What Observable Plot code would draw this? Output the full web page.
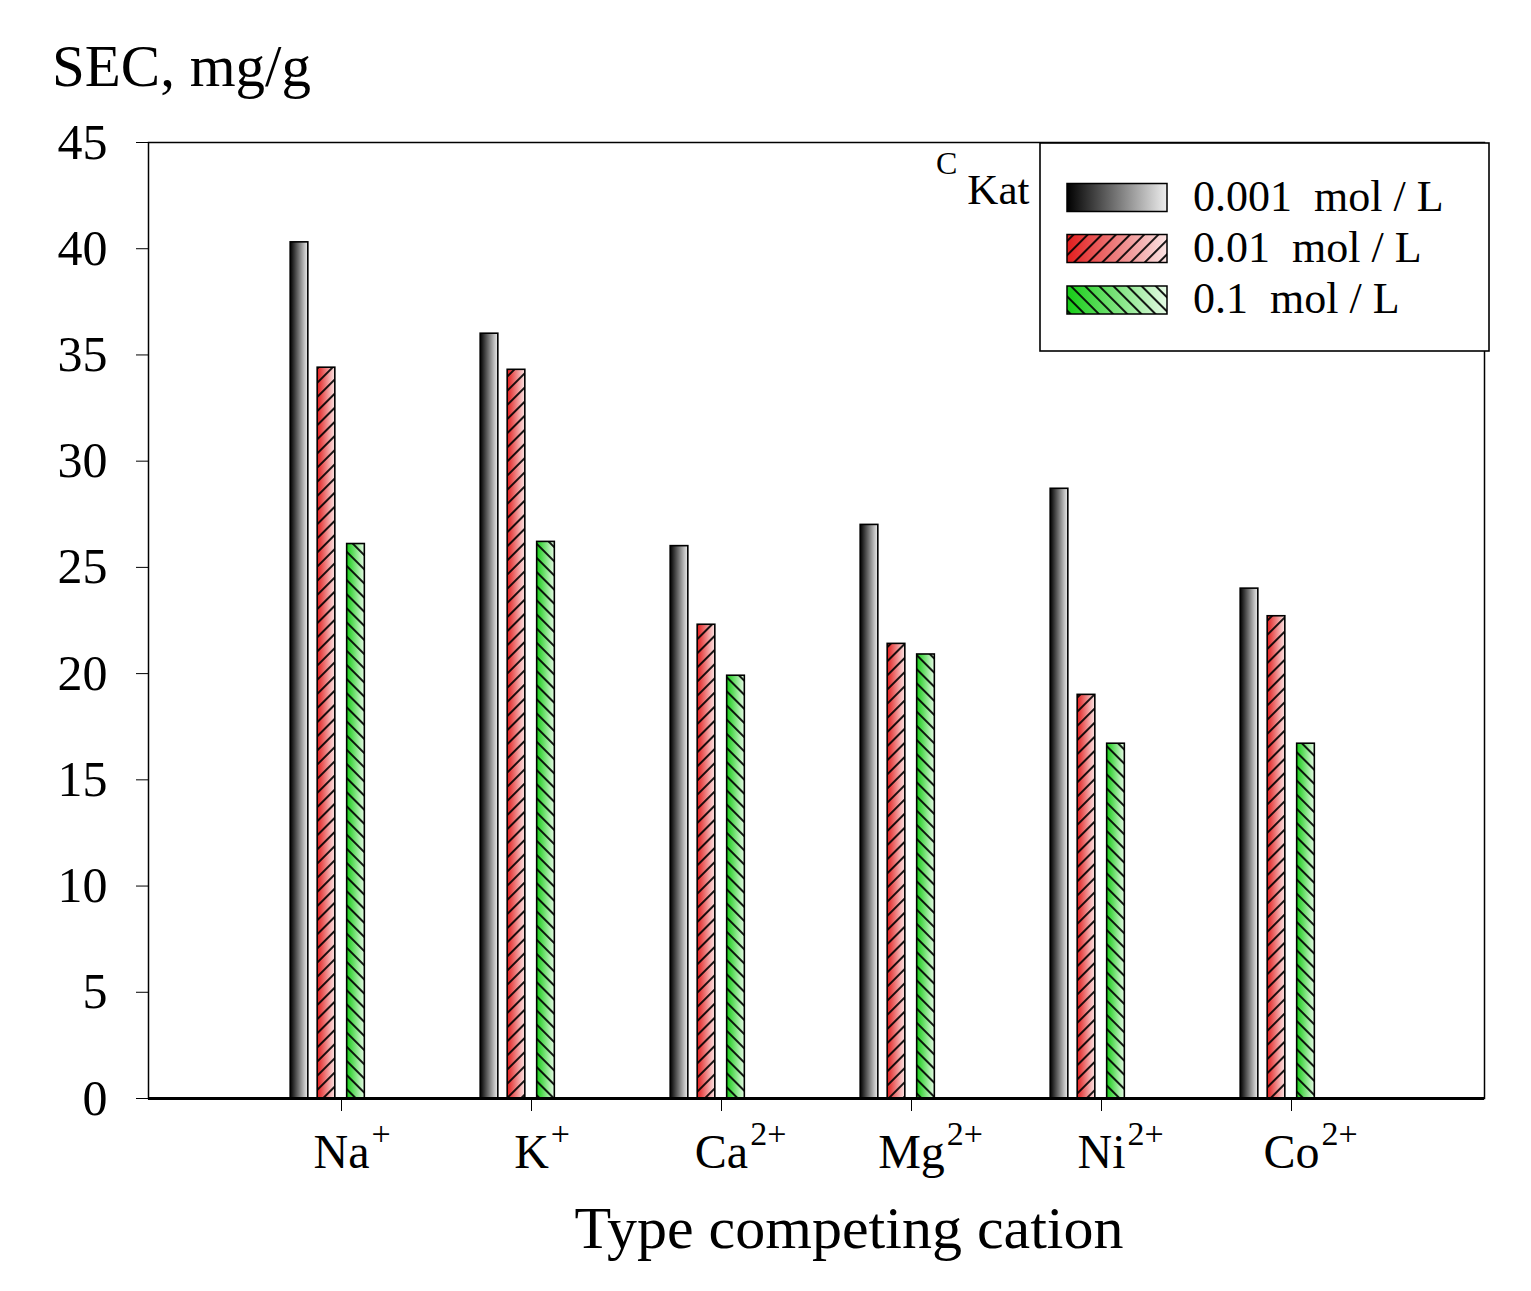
<!DOCTYPE html>
<html>
<head>
<meta charset="utf-8">
<script src="https://cdn.jsdelivr.net/npm/d3@7"></script>
<script src="https://cdn.jsdelivr.net/npm/@observablehq/plot@0.6"></script>
<style>
  html, body { margin: 0; padding: 0; background: #fff; }
  #chart svg { display: block; }
</style>
</head>
<body>
<div id="chart"></div>
<script>
// ---- data ----
const cations = ["Na", "K", "Ca", "Mg", "Ni", "Co"];
const charges = ["+", "+", "2+", "2+", "2+", "2+"];
const seriesLabels = ["0.001  mol / L", "0.01  mol / L", "0.1  mol / L"];
const sec0001 = [40.3, 36.0, 26.0, 27.0, 28.7, 24.0];
const sec001  = [34.4, 34.3, 22.3, 21.4, 19.0, 22.7];
const sec01   = [26.1, 26.2, 19.9, 20.9, 16.7, 16.7];
const yTicks = [0, 5, 10, 15, 20, 25, 30, 35, 40, 45];
const yLabel = "SEC, mg/g";
const xLabel = "Type competing cation";

const seriesValues = [sec0001, sec001, sec01];
const data = cations.flatMap((c, i) => seriesValues.map((vals, k) => ({cation: c, series: k, value: vals[i]})));

// ---- layout ----
const W = 1531, H = 1291;
const mL = 148, mR = 47, mT = 142, mB = 193;
const bandW = (W - mL - mR) / 7;   // paddingOuter 0.5, paddingInner 0 -> 7 steps
const barW = 18.5;
const offsets = [-42, -15, 14.5];
const fills = ["url(#gBlack)", "url(#gRed)", "url(#gGreen)"];
const hatches = ["none", "url(#hRed)", "url(#hGreen)"];
function insets(k) {
  const left = bandW / 2 + offsets[k] - barW / 2;
  return {insetLeft: left, insetRight: bandW - left - barW};
}

const marks = [];
for (let k = 0; k < 3; k++) {
  const sub = data.filter(d => d.series === k);
  marks.push(Plot.barY(sub, {x: "cation", y: "value", fill: fills[k], ...insets(k)}));
  marks.push(Plot.barY(sub, {x: "cation", y: "value", fill: hatches[k], stroke: "#000", strokeWidth: 1.6, ...insets(k)}));
}
marks.push(Plot.frame({stroke: "#000", strokeWidth: 1.5}));
marks.push(Plot.ruleY([0], {stroke: "#000", strokeWidth: 3}));

const svgNode = Plot.plot({
  width: W,
  height: H,
  marginLeft: mL,
  marginRight: mR,
  marginTop: mT,
  marginBottom: mB,
  style: {fontFamily: "'Liberation Serif', 'Times New Roman', serif", fontSize: "50px", color: "#000", background: "#fff", overflow: "visible"},
  x: {type: "band", domain: cations, paddingInner: 0, paddingOuter: 0.5, tickSize: 13, tickPadding: 22, label: null},
  y: {domain: [0, 45], ticks: yTicks, tickSize: 12, tickPadding: 29, label: null},
  marks
});

document.getElementById("chart").appendChild(svgNode);
const svg = d3.select(svgNode);

// ---- defs: gradients and hatches ----
const defs = svg.insert("defs", ":first-child");
function grad(id, c0, c1) {
  const g = defs.append("linearGradient").attr("id", id).attr("x1", 0).attr("x2", 1).attr("y1", 0).attr("y2", 0);
  g.append("stop").attr("offset", "0%").attr("stop-color", c0);
  g.append("stop").attr("offset", "100%").attr("stop-color", c1);
}
grad("gBlack", "#000000", "#eeeeee");
grad("gRed", "#e21c1c", "#fbe4e4");
grad("gGreen", "#14cc14", "#e6fbe6");
function hatch(id, angle, size) {
  const p = defs.append("pattern").attr("id", id).attr("patternUnits", "userSpaceOnUse")
    .attr("width", size).attr("height", size).attr("patternTransform", `rotate(${angle})`);
  p.append("line").attr("x1", size / 2).attr("y1", -1).attr("x2", size / 2).attr("y2", size + 1)
    .attr("stroke", "#000").attr("stroke-width", 1.8);
}
hatch("hRed", 45, 10);
hatch("hGreen", -45, 10);

// ---- x tick labels with superscript charges (base centred on the tick) ----
svg.selectAll("text").each(function() {
  const t = d3.select(this);
  const idx = cations.indexOf(this.textContent);
  if (idx >= 0 && this.childElementCount === 0) {
    const base = this.textContent;
    t.text(null).attr("font-size", 48);
    const b = t.append("tspan").text(base);
    const baseW = this.getComputedTextLength();
    t.append("tspan").attr("dy", -23).attr("dx", 2).attr("font-size", 34).text(charges[idx]);
    const totalW = this.getComputedTextLength() + 2;
    b.attr("dx", (totalW - baseW) / 2);
  }
});

// ---- axis titles ----
svg.append("text").attr("x", 52).attr("y", 86).attr("font-size", 59).attr("text-anchor", "start")
  .attr("fill", "#000").text(yLabel);
svg.append("text").attr("x", 849).attr("y", 1248).attr("font-size", 60).attr("text-anchor", "middle")
  .attr("fill", "#000").text(xLabel);

// ---- C_Kat label ----
const ck = svg.append("text").attr("x", 936).attr("y", 174).attr("text-anchor", "start").attr("fill", "#000");
ck.append("tspan").attr("font-size", 32).text("C");
ck.append("tspan").attr("font-size", 43).attr("dy", 30).attr("dx", 10).text("Kat");

// ---- legend ----
const lg = svg.append("g").attr("text-anchor", "start");
lg.append("rect").attr("x", 1040).attr("y", 143).attr("width", 449).attr("height", 208)
  .attr("fill", "#fff").attr("stroke", "#000").attr("stroke-width", 1.6);
const rowY = [197.5, 248.5, 300];
seriesLabels.forEach((lab, k) => {
  const y = rowY[k];
  lg.append("rect").attr("x", 1067).attr("y", y - 14).attr("width", 100).attr("height", 28).attr("fill", fills[k]);
  lg.append("rect").attr("x", 1067).attr("y", y - 14).attr("width", 100).attr("height", 28)
    .attr("fill", hatches[k]).attr("stroke", "#000").attr("stroke-width", 1.5);
  lg.append("text").attr("x", 1193).attr("y", y + 13).attr("font-size", 44).attr("text-anchor", "start")
    .attr("fill", "#000").style("white-space", "pre").text(lab);
});
</script>
</body>
</html>
